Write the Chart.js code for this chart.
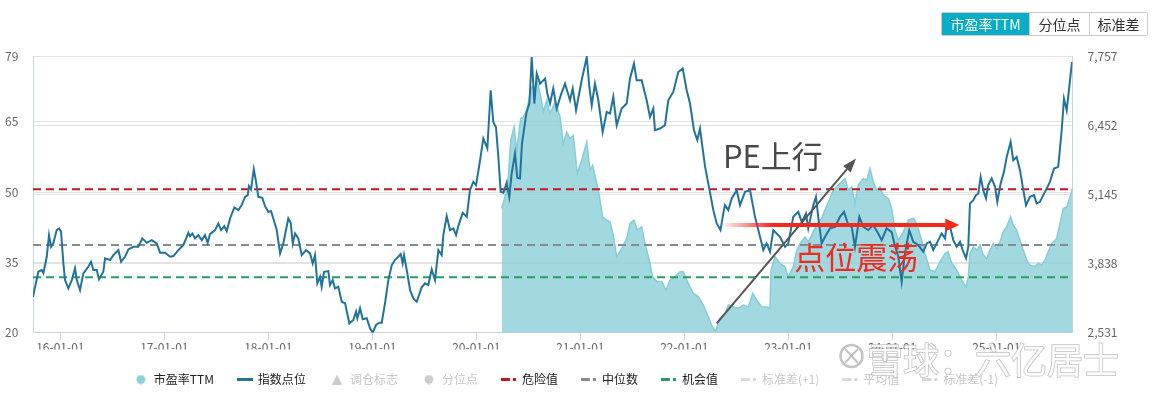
<!DOCTYPE html>
<html>
<head>
<meta charset="utf-8">
<script src="https://cdn.jsdelivr.net/npm/chart.js@4.4.0/dist/chart.umd.min.js"></script>
<style>
  body { margin: 0; background: #fff; }
  #wrap { position: relative; width: 1156px; height: 399px; }
  .tabs { position: absolute; left: 941px; top: 12px; display: flex; border: 1px solid #ccc; border-radius: 2px;
          font-family: "Noto Sans CJK SC", sans-serif; font-size: 14px; }
  .tab { height: 22px; line-height: 22px; text-align: center; color: #333; border-left: 1px solid #ccc; }
  .tab:first-child { border-left: none; }
  .tab.active { background: #0aadc6; color: #fff; }
</style>
</head>
<body>
<div id="wrap">
  <canvas id="chart"></canvas>
  <div class="tabs">
    <div class="tab active" style="width:87px">市盈率TTM</div>
    <div class="tab" style="width:59px">分位点</div>
    <div class="tab" style="width:57px">标准差</div>
  </div>
</div>
<script>
// time axis in decimal years
const xMin = 2015.737;
const xMax = 2025.733;
const xTickYears = [2016, 2017, 2018, 2019, 2020, 2021, 2022, 2023, 2024, 2025];
const xTickLabels = ['16-01-01', '17-01-01', '18-01-01', '19-01-01', '20-01-01', '21-01-01', '22-01-01', '23-01-01', '24-01-01', '25-01-01'];

const peTicks = [20, 35, 50, 65, 79];
const idxTickValues = [2531, 3837.5, 5144, 6450.5, 7757];
const idxTickLabels = ['2,531', '3,838', '5,145', '6,452', '7,757'];

// 指数点位
const indexDates = [
  2015.737, 2015.788, 2015.821, 2015.837, 2015.869, 2015.891, 2015.911, 2015.933, 2015.965, 2015.988,
  2016.007, 2016.029, 2016.045, 2016.077, 2016.110, 2016.141, 2016.158, 2016.189, 2016.221, 2016.269,
  2016.295, 2016.317, 2016.350, 2016.372, 2016.413, 2016.430, 2016.478, 2016.510, 2016.558, 2016.584,
  2016.622, 2016.654, 2016.702, 2016.750, 2016.788, 2016.831, 2016.879, 2016.927, 2016.959, 2017.007,
  2017.055, 2017.087, 2017.135, 2017.183, 2017.231, 2017.247, 2017.269, 2017.295, 2017.327, 2017.360,
  2017.391, 2017.417, 2017.439, 2017.488, 2017.519, 2017.545, 2017.577, 2017.600, 2017.632, 2017.673,
  2017.712, 2017.744, 2017.776, 2017.802, 2017.814, 2017.834, 2017.860, 2017.879, 2017.904, 2017.942,
  2017.968, 2018.000, 2018.026, 2018.048, 2018.081, 2018.113, 2018.144, 2018.192, 2018.215, 2018.235,
  2018.257, 2018.288, 2018.321, 2018.363, 2018.401, 2018.427, 2018.449, 2018.471, 2018.497, 2018.513,
  2018.536, 2018.577, 2018.593, 2018.619, 2018.641, 2018.673, 2018.706, 2018.738, 2018.779, 2018.817,
  2018.843, 2018.856, 2018.882, 2018.908, 2018.946, 2018.978, 2019.004, 2019.036, 2019.067, 2019.090,
  2019.122, 2019.154, 2019.187, 2019.218, 2019.250, 2019.273, 2019.292, 2019.305, 2019.331, 2019.363,
  2019.394, 2019.427, 2019.475, 2019.507, 2019.538, 2019.571, 2019.603, 2019.635, 2019.667, 2019.683,
  2019.715, 2019.747, 2019.779, 2019.805, 2019.827, 2019.869, 2019.908, 2019.939, 2019.971, 2019.997,
  2020.029, 2020.067, 2020.106, 2020.138, 2020.163, 2020.189, 2020.212, 2020.234, 2020.260, 2020.292,
  2020.317, 2020.340, 2020.372, 2020.394, 2020.420, 2020.439, 2020.483, 2020.510, 2020.533, 2020.558,
  2020.581, 2020.613, 2020.661, 2020.683, 2020.709, 2020.740, 2020.773, 2020.812, 2020.853, 2020.901,
  2020.927, 2020.959, 2021.013, 2021.062, 2021.087, 2021.110, 2021.141, 2021.173, 2021.215, 2021.254,
  2021.286, 2021.317, 2021.350, 2021.398, 2021.446, 2021.478, 2021.516, 2021.542, 2021.590, 2021.638,
  2021.670, 2021.702, 2021.718, 2021.766, 2021.814, 2021.846, 2021.894, 2021.942, 2021.985, 2022.023,
  2022.055, 2022.093, 2022.125, 2022.151, 2022.199, 2022.240, 2022.279, 2022.312, 2022.348, 2022.375,
  2022.391, 2022.423, 2022.456, 2022.504, 2022.536, 2022.584, 2022.632, 2022.680, 2022.728, 2022.760,
  2022.792, 2022.824, 2022.856, 2022.888, 2022.920, 2022.968, 2023.000, 2023.048, 2023.096, 2023.129,
  2023.170, 2023.192, 2023.240, 2023.266, 2023.288, 2023.321, 2023.353, 2023.401, 2023.449, 2023.497,
  2023.536, 2023.577, 2023.610, 2023.641, 2023.683, 2023.721, 2023.769, 2023.817, 2023.865, 2023.898,
  2023.946, 2023.994, 2024.026, 2024.058, 2024.090, 2024.122, 2024.163, 2024.202, 2024.250, 2024.298,
  2024.331, 2024.363, 2024.394, 2024.427, 2024.475, 2024.507, 2024.523, 2024.555, 2024.587, 2024.619,
  2024.651, 2024.677, 2024.709, 2024.731, 2024.747, 2024.779, 2024.805, 2024.827, 2024.850, 2024.875,
  2024.901, 2024.923, 2024.956, 2024.988, 2025.010, 2025.042, 2025.074, 2025.100, 2025.138, 2025.163,
  2025.196, 2025.228, 2025.260, 2025.286, 2025.324, 2025.363, 2025.388, 2025.420, 2025.452, 2025.485,
  2025.516, 2025.555, 2025.596, 2025.629, 2025.651, 2025.677, 2025.702, 2025.728
];
const indexValues = [
  3210, 3682, 3714, 3657, 3965, 4374, 4153, 4223, 4469, 4501,
  4436, 3840, 3525, 3369, 3525, 3746, 3525, 3337, 3652, 3776,
  3870, 3714, 3714, 3538, 3682, 3935, 3903, 3997, 4091, 3870,
  3965, 4104, 4153, 4153, 4312, 4229, 4280, 4218, 4040, 4040,
  3965, 3978, 4091, 4186, 4418, 4355, 4406, 4312, 4374, 4280,
  4374, 4229, 4393, 4469, 4595, 4469, 4544, 4450, 4689, 4897,
  4846, 4940, 5097, 5129, 5299, 5236, 5619, 5412, 5097, 5078,
  4921, 4814, 4827, 4689, 4469, 4029, 4218, 4689, 4606, 4218,
  4406, 4312, 3997, 4091, 4029, 3840, 3997, 3463, 3587, 3399,
  3682, 3695, 3431, 3525, 3369, 3399, 3116, 3086, 2708, 2771,
  2927, 2803, 2991, 2784, 2803, 2614, 2531, 2676, 2720, 2720,
  3086, 3525, 3808, 3903, 3965, 4016, 3840, 3997, 3714, 3337,
  3180, 3116, 3388, 3463, 3431, 3727, 3525, 4091, 3997, 4374,
  4733, 4469, 4501, 4374, 4544, 4795, 4719, 5223, 5380, 5318,
  5695, 6199, 6010, 7110, 6512, 6412, 5851, 5191, 5176, 5365,
  5097, 5538, 5916, 5459, 5444, 6104, 6695, 6859, 7738, 6859,
  7425, 7236, 7331, 7048, 6859, 7142, 6764, 7015, 7236, 6921,
  7142, 6732, 7298, 7738, 7172, 6827, 7236, 6921, 6323, 6700,
  6670, 6983, 6449, 6764, 6859, 7331, 7613, 7298, 7298, 6921,
  6606, 6764, 6355, 6387, 6449, 6921, 7078, 7455, 7519, 7110,
  6859, 6355, 6167, 6387, 5676, 5255, 4846, 4595, 4469, 4784,
  4940, 4846, 5067, 5223, 4940, 5191, 5223, 4719, 4342, 4091,
  4218, 4059, 4469, 4406, 4342, 4153, 4218, 4719, 4814, 4625,
  4784, 4501, 4940, 5097, 4719, 4218, 4342, 4501, 4531, 4719,
  4814, 4563, 4531, 4153, 4719, 4531, 4469, 4563, 4406, 4280,
  4501, 4431, 4167, 3965, 3493, 4029, 4469, 4248, 4186, 4059,
  4218, 4248, 4091, 4218, 4406, 4312, 4563, 4531, 4280, 4153,
  4248, 4091, 3935, 4153, 4972, 5035, 5129, 5161, 5474, 5223,
  5067, 5318, 5444, 5285, 5002, 5350, 5568, 5851, 6134, 5789,
  5851, 5601, 5223, 4940, 5097, 5129, 4972, 5002, 5129, 5255,
  5380, 5633, 5663, 6355, 6953, 6732, 7172, 7644
];

// 市盈率TTM
const peDates = [
  2020.244, 2020.276, 2020.308, 2020.331, 2020.363, 2020.388, 2020.427, 2020.452, 2020.485, 2020.533,
  2020.564, 2020.587, 2020.613, 2020.644, 2020.677, 2020.709, 2020.757, 2020.805, 2020.837, 2020.869,
  2020.901, 2020.933, 2020.971, 2021.013, 2021.062, 2021.093, 2021.119, 2021.151, 2021.173, 2021.215,
  2021.254, 2021.286, 2021.317, 2021.350, 2021.398, 2021.446, 2021.478, 2021.516, 2021.548, 2021.590,
  2021.622, 2021.663, 2021.696, 2021.735, 2021.783, 2021.824, 2021.863, 2021.910, 2021.959, 2021.990,
  2022.038, 2022.087, 2022.135, 2022.183, 2022.231, 2022.263, 2022.300, 2022.343, 2022.391, 2022.423,
  2022.471, 2022.519, 2022.567, 2022.615, 2022.658, 2022.696, 2022.744, 2022.792, 2022.824, 2022.834,
  2022.872, 2022.920, 2022.968, 2023.000, 2023.048, 2023.081, 2023.113, 2023.161, 2023.192, 2023.240,
  2023.279, 2023.321, 2023.363, 2023.401, 2023.433, 2023.465, 2023.513, 2023.545, 2023.577, 2023.610,
  2023.641, 2023.673, 2023.721, 2023.754, 2023.786, 2023.817, 2023.850, 2023.882, 2023.913, 2023.962,
  2023.994, 2024.026, 2024.058, 2024.106, 2024.154, 2024.202, 2024.235, 2024.273, 2024.314, 2024.363,
  2024.410, 2024.458, 2024.507, 2024.538, 2024.571, 2024.619, 2024.667, 2024.709, 2024.731, 2024.747,
  2024.779, 2024.812, 2024.844, 2024.875, 2024.908, 2024.940, 2024.971, 2025.004, 2025.036, 2025.067,
  2025.100, 2025.138, 2025.163, 2025.196, 2025.228, 2025.260, 2025.292, 2025.324, 2025.372, 2025.404,
  2025.436, 2025.468, 2025.500, 2025.533, 2025.581, 2025.613, 2025.644, 2025.677, 2025.709, 2025.733
];
const peValues = [
  46.5, 49.0, 53.2, 61.0, 63.9, 58.9, 65.7, 66.0, 67.4, 72.4,
  72.4, 73.5, 71.0, 67.1, 69.6, 66.7, 69.2, 66.0, 60.3, 62.8,
  61.4, 62.1, 54.0, 56.8, 60.7, 54.7, 55.7, 52.5, 50.4, 44.7,
  44.0, 43.6, 40.8, 36.2, 38.0, 40.1, 43.3, 44.0, 41.9, 42.6,
  39.0, 35.5, 31.9, 30.9, 30.9, 29.1, 31.2, 31.9, 33.0, 33.0,
  30.5, 28.4, 27.7, 25.9, 23.4, 21.6, 20.3, 23.1, 24.1, 25.9,
  25.5, 25.2, 25.9, 25.5, 28.4, 27.0, 25.5, 25.5, 25.2, 33.4,
  36.2, 34.8, 34.1, 31.9, 34.1, 37.6, 39.0, 40.4, 39.4, 41.5,
  43.3, 44.4, 46.8, 48.6, 50.4, 51.1, 52.2, 52.9, 50.4, 51.1,
  47.6, 51.5, 52.9, 52.5, 55.0, 52.2, 50.4, 51.1, 49.3, 48.6,
  46.5, 41.9, 39.7, 41.5, 44.0, 44.4, 43.3, 40.4, 36.9, 33.4,
  33.0, 35.1, 36.9, 37.3, 34.8, 33.4, 31.2, 29.8, 31.9, 36.9,
  38.3, 37.6, 38.7, 36.6, 35.8, 37.6, 39.0, 38.0, 39.4, 41.5,
  42.6, 44.7, 42.9, 41.9, 39.7, 37.6, 35.5, 34.4, 34.1, 34.8,
  34.4, 35.5, 37.3, 39.0, 40.1, 43.3, 46.5, 46.8, 49.0, 50.8
];

// 危险值 / 中位数 / 机会值
const refNames = ['危险值', '中位数', '机会值'];
const refValues = [50.6, 38.7, 31.8];
const refColors = ['#c2171c', '#868a91', '#2a9d63'];

const legendNames = ['市盈率TTM', '指数点位', '调仓标志', '分位点', '危险值', '中位数', '机会值', '标准差(+1)', '平均值', '标准差(-1)'];
const legendIcons = ['circle', 'line', 'triangle', 'circle', 'dash', 'dash', 'dash', 'dash', 'dash', 'dash'];
const legendColors = ['#8dd1db', '#21739c', '#cccccc', '#cccccc', '#c2171c', '#868a91', '#2a9d63', '#d9d9d9', '#d9d9d9', '#d9d9d9'];
const legendOn = [true, true, false, false, true, true, true, false, false, false];

Chart.defaults.font.family = '"Noto Sans CJK SC", "Noto Sans", sans-serif';

function makeIcon(type, color) {
    const c = document.createElement('canvas');
    const g = c.getContext('2d');
    if (type === 'circle') {
        c.width = 10; c.height = 10;
        g.fillStyle = color;
        g.beginPath(); g.arc(5, 5, 4.5, 0, Math.PI * 2); g.fill();
    } else if (type === 'line') {
        c.width = 16; c.height = 3;
        g.fillStyle = color;
        g.fillRect(0, 0, 16, 3);
    } else if (type === 'triangle') {
        c.width = 10; c.height = 10;
        g.fillStyle = color;
        g.beginPath(); g.moveTo(5, 0); g.lineTo(10, 10); g.lineTo(0, 10); g.closePath(); g.fill();
    } else {
        c.width = 16; c.height = 3;
        g.fillStyle = color;
        g.fillRect(0, 0, 9, 3);
        g.fillRect(12, 0, 3, 3);
    }
    return c;
}

function drawArrow(g, x0, y0, x1, y1, lineColor, headColor, width, headLen, headHalf) {
    const a = Math.atan2(y1 - y0, x1 - x0);
    const bx = x1 - Math.cos(a) * headLen;
    const by = y1 - Math.sin(a) * headLen;
    g.strokeStyle = lineColor;
    g.lineWidth = width;
    g.beginPath(); g.moveTo(x0, y0); g.lineTo(bx, by); g.stroke();
    g.fillStyle = headColor;
    g.beginPath();
    g.moveTo(x1, y1);
    g.lineTo(bx + Math.sin(a) * headHalf, by - Math.cos(a) * headHalf);
    g.lineTo(bx - Math.sin(a) * headHalf, by + Math.cos(a) * headHalf);
    g.closePath(); g.fill();
}

const notes = {
    id: 'notes',
    afterDatasetsDraw(chart) {
        const g = chart.ctx;
        const px = v => chart.scales.x.getPixelForValue(v);
        const py = v => chart.scales.yPE.getPixelForValue(v);
        g.save();
        // PE上行 arrow
        drawArrow(g, px(2022.311), py(22.0), px(2023.651), py(57.15), '#555', '#555', 2, 14, 5);
        // 点位震荡 arrow, tail fades out
        const x0 = px(2022.343), x1 = px(2024.644), yr = py(42.94);
        const grad = g.createLinearGradient(x0, 0, x1, 0);
        grad.addColorStop(0, 'rgba(245,40,28,0)');
        grad.addColorStop(0.22, 'rgba(245,40,28,1)');
        grad.addColorStop(1, 'rgba(245,40,28,1)');
        drawArrow(g, x0, yr, x1, yr, grad, '#f5281c', 4, 14, 6.5);

        g.textBaseline = 'middle';
        g.textAlign = 'left';
        g.font = '31px "Noto Sans CJK SC"';
        g.fillStyle = '#4a4a4a';
        g.fillText('PE上行', px(2022.372), py(57.6));
        g.fillStyle = '#f5281c';
        g.fillText('点位震荡', px(2023.058), py(36.1));
        g.restore();
    },
    afterDraw(chart) {
        // 雪球 watermark
        const g = chart.ctx;
        g.save();
        g.strokeStyle = 'rgba(170,170,170,0.7)';
        g.fillStyle = 'rgba(255,255,255,0.85)';
        g.lineWidth = 2.5;
        g.beginPath(); g.arc(851.5, 356, 11, 0, Math.PI * 2); g.stroke();
        g.lineWidth = 2;
        g.beginPath(); g.moveTo(845, 349); g.quadraticCurveTo(852, 356, 858, 363); g.stroke();
        g.beginPath(); g.moveTo(858, 349); g.quadraticCurveTo(851, 356, 845, 363); g.stroke();
        g.font = '36px "Noto Sans CJK SC"';
        g.textBaseline = 'middle';
        g.lineWidth = 1.5;
        g.strokeText('雪球：六亿居士', 867, 360);
        g.fillText('雪球：六亿居士', 867, 360);
        g.restore();
    }
};

const datasets = [
    {
        label: '指数点位',
        data: indexDates.map((d, i) => ({ x: d, y: indexValues[i] })),
        yAxisID: 'yIdx',
        borderColor: '#21739c',
        borderWidth: 2,
        pointRadius: 0,
        fill: false
    }
];
refNames.forEach((name, i) => {
    datasets.push({
        label: name,
        data: [{ x: xMin, y: refValues[i] }, { x: xMax, y: refValues[i] }],
        yAxisID: 'yPE',
        borderColor: refColors[i],
        borderWidth: 2,
        borderDash: [8, 5],
        pointRadius: 0,
        fill: false
    });
});
datasets.push({
    label: '市盈率TTM',
    data: peDates.map((d, i) => ({ x: d, y: peValues[i] })),
    yAxisID: 'yPE',
    borderColor: '#86cdd8',
    borderWidth: 1.5,
    backgroundColor: 'rgba(141,207,217,0.82)',
    pointRadius: 0,
    fill: 'start'
});

const axisLine = '#c8d2e4';
const gridLine = '#e3e3e3';

new Chart(document.getElementById('chart'), {
    type: 'line',
    data: { datasets },
    options: {
        responsive: true,
        maintainAspectRatio: false,
        animation: false,
        layout: { padding: { top: 56, left: 5, right: 29, bottom: 3.5 } },
        plugins: {
            tooltip: { enabled: false },
            legend: {
                position: 'bottom',
                onClick: () => {},
                labels: {
                    usePointStyle: true,
                    pointStyleWidth: 14,
                    padding: 24,
                    font: { size: 12 },
                    generateLabels: () => legendNames.map((name, i) => ({
                        text: name,
                        pointStyle: makeIcon(legendIcons[i], legendColors[i]),
                        fillStyle: legendColors[i],
                        strokeStyle: legendColors[i],
                        lineWidth: 1,
                        hidden: false,
                        fontColor: legendOn[i] ? '#222' : '#c8c8c8'
                    }))
                }
            }
        },
        scales: {
            x: {
                type: 'linear',
                min: xMin,
                max: xMax,
                afterBuildTicks: s => { s.ticks = xTickYears.map(v => ({ value: v })); },
                afterFit: s => { s.height = 16.8; },
                ticks: {
                    autoSkip: false,
                    maxRotation: 0,
                    padding: 1,
                    color: '#666',
                    font: { size: 12 },
                    callback: (v, i) => xTickLabels[i]
                },
                grid: { drawOnChartArea: false, color: axisLine, tickLength: 7 },
                border: { color: axisLine }
            },
            yPE: {
                position: 'left',
                min: 20,
                max: 79,
                afterBuildTicks: s => { s.ticks = peTicks.map(v => ({ value: v })); },
                afterFit: s => { s.width = 28; },
                ticks: { crossAlign: 'far', color: '#666', font: { size: 12 } },
                grid: { color: gridLine, drawTicks: false },
                border: { color: axisLine }
            },
            yIdx: {
                position: 'right',
                min: 2531,
                max: 7757,
                afterBuildTicks: s => { s.ticks = idxTickValues.map(v => ({ value: v })); },
                afterFit: s => { s.width = 54.5; },
                ticks: { padding: 15, color: '#666', font: { size: 12 }, callback: (v, i) => idxTickLabels[i] },
                grid: { color: gridLine, drawTicks: false },
                border: { color: axisLine }
            }
        }
    },
    plugins: [notes]
});
</script>
</body>
</html>
